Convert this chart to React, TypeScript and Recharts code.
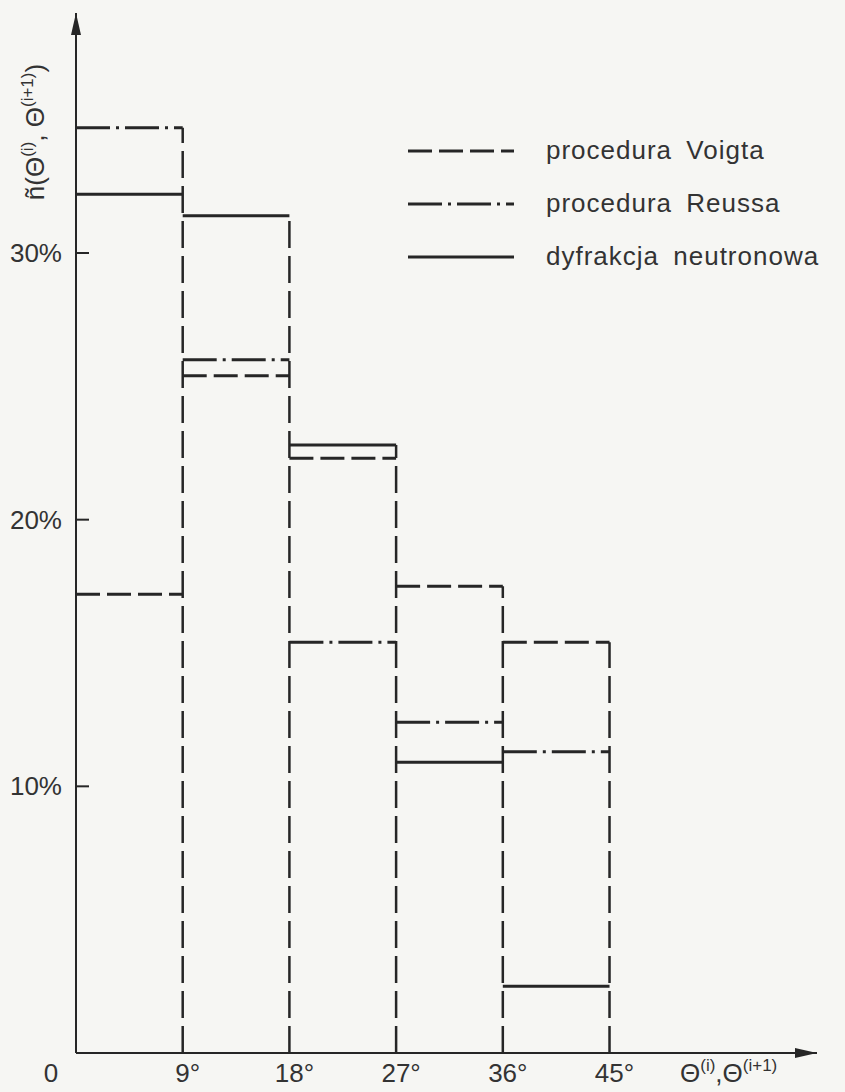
import { useEffect } from 'react'
import {
  ComposedChart,
  Line,
  XAxis,
  YAxis,
  ReferenceLine,
  ReferenceDot,
  Legend,
} from 'recharts'

// bin edges in degrees
const binEdges = [0, 9, 18, 27, 36, 45]
const voigt = [17.2, 25.4, 22.3, 17.5, 15.4]
const reuss = [34.7, 26.0, 15.4, 12.4, 11.3]
const neutron = [32.2, 31.4, 22.8, 10.9, 2.5]

const xTicks = [0, 9, 18, 27, 36, 45]
const xTickLabels = ['0', '9°', '18°', '27°', '36°', '45°']
const yTicks = [10, 20, 30]
const yTickLabels = ['10%', '20%', '30%']

const INK = '#262626'
const FONT = '"Liberation Sans", Arial, sans-serif'

const SERIES = [
  { key: 'voigt', name: 'procedura Voigta', dash: '24 7' },
  { key: 'reuss', name: 'procedura Reussa', dash: '34 6 3 6' },
  { key: 'neutron', name: 'dyfrakcja neutronowa', dash: undefined },
]

const values: Record<string, number[]> = { voigt, reuss, neutron }

// step rows: start, end, then a null row to break the line
const rows: Record<string, number | null>[] = []
binEdges.slice(0, -1).forEach((start, i) => {
  const end = binEdges[i + 1]
  rows.push({ theta: start, voigt: voigt[i], reuss: reuss[i], neutron: neutron[i] })
  rows.push({ theta: end, voigt: voigt[i], reuss: reuss[i], neutron: neutron[i] })
  rows.push({ theta: end, voigt: null, reuss: null, neutron: null })
})

// vertical boundary lines reach the highest bar on either side
const boundaries = binEdges.slice(1).map((edge, k) => {
  const bins = [k, k + 1].filter((b) => b < voigt.length)
  const top = Math.max(...bins.flatMap((b) => SERIES.map((s) => values[s.key][b])))
  return { edge, top }
})

const renderYTick = (props: any) => {
  const { x, y, payload } = props
  const idx = yTicks.indexOf(payload.value)
  return (
    <g key={payload.value}>
      <path d={`M${x},${y}H${x + 13}`} stroke={INK} strokeWidth={2} fill="none" />
      <text x={x - 14} y={y + 9} textAnchor="end" fontSize={26} fontFamily={FONT} fill="#333">
        {yTickLabels[idx]}
      </text>
    </g>
  )
}

const renderXTick = (props: any) => {
  const { x, y, payload } = props
  const idx = xTicks.indexOf(payload.value)
  const dx = payload.value === 0 ? -25 : 5
  return (
    <text key={payload.value} x={x + dx} y={y + 29} textAnchor="middle" fontSize={26} fontFamily={FONT} fill="#333">
      {xTickLabels[idx]}
    </text>
  )
}

function LegendBox() {
  return (
    <div style={{ fontFamily: FONT, color: '#333' }}>
      {SERIES.map((s) => (
        <div key={s.key} style={{ display: 'flex', alignItems: 'center', height: 53 }}>
          <svg width={110} height={10} style={{ marginRight: 30 }}>
            <line x1={2} x2={108} y1={5} y2={5} stroke={INK} strokeWidth={3} strokeDasharray={s.dash} />
          </svg>
          <span style={{ fontSize: 26, letterSpacing: 1, wordSpacing: 6 }}>{s.name}</span>
        </div>
      ))}
    </div>
  )
}

function YLabel() {
  return (
    <text
      transform="translate(44,132) rotate(-90)"
      x={0}
      y={0}
      fontSize={26}
      fontFamily={FONT}
      fill="#333"
      textAnchor="middle"
    >
      ñ(Θ<tspan dy={-11} fontSize={17}>(i)</tspan>
      <tspan dy={11}>, Θ</tspan>
      <tspan dy={-11} fontSize={17}>(i+1)</tspan>
      <tspan dy={11}>)</tspan>
    </text>
  )
}

function XLabel() {
  return (
    <text x={680} y={1082} fontSize={26} fontFamily={FONT} fill="#333">
      Θ<tspan dy={-11} fontSize={17}>(i)</tspan>
      <tspan dy={11}>,Θ</tspan>
      <tspan dy={-11} fontSize={17}>(i+1)</tspan>
    </text>
  )
}

const arrowUp = (p: any) => (
  <path d={`M${p.cx},${p.cy} L${p.cx - 5},${p.cy + 22} L${p.cx + 5},${p.cy + 22} Z`} fill={INK} />
)
const arrowRight = (p: any) => (
  <path d={`M${p.cx},${p.cy} L${p.cx - 22},${p.cy - 5} L${p.cx - 22},${p.cy + 5} Z`} fill={INK} />
)

export default function App() {
  useEffect(() => {
    document.body.style.margin = '0'
  }, [])

  return (
    <div style={{ position: 'absolute', left: 0, top: 0, width: 845, height: 1092, background: '#f6f6f3' }}>
      <ComposedChart
        width={845}
        height={1092}
        data={rows}
        margin={{ top: 13, right: 28, left: 0, bottom: 0 }}
      >
        <XAxis
          dataKey="theta"
          type="number"
          domain={[0, 62.5]}
          ticks={xTicks}
          tick={renderXTick}
          tickLine={false}
          tickSize={0}
          tickMargin={0}
          height={39}
          axisLine={{ stroke: INK, strokeWidth: 2 }}
          allowDuplicatedCategory
          label={<XLabel />}
        />
        <YAxis
          type="number"
          domain={[0, 39]}
          ticks={yTicks}
          tick={renderYTick}
          tickLine={false}
          tickSize={0}
          tickMargin={0}
          width={76}
          axisLine={{ stroke: INK, strokeWidth: 2 }}
          label={<YLabel />}
        />
        {boundaries.map((b) => (
          <ReferenceLine
            key={b.edge}
            segment={[
              { x: b.edge, y: 0 },
              { x: b.edge, y: b.top },
            ]}
            stroke={INK}
            strokeWidth={2.5}
            strokeDasharray="27 8"
          />
        ))}
        {SERIES.map((s) => (
          <Line
            key={s.key}
            dataKey={s.key}
            name={s.name}
            type="linear"
            stroke={INK}
            strokeWidth={3}
            strokeDasharray={s.dash}
            dot={false}
            activeDot={false}
            connectNulls={false}
            isAnimationActive={false}
          />
        ))}
        <ReferenceDot x={0} y={39} r={0} shape={arrowUp} ifOverflow="visible" />
        <ReferenceDot x={62.5} y={0} r={0} shape={arrowRight} ifOverflow="visible" />
        <Legend
          layout="vertical"
          align="center"
          verticalAlign="middle"
          content={<LegendBox />}
          wrapperStyle={{ position: 'absolute', left: 406, top: 124, width: 440, height: 160 }}
        />
      </ComposedChart>
    </div>
  )
}
